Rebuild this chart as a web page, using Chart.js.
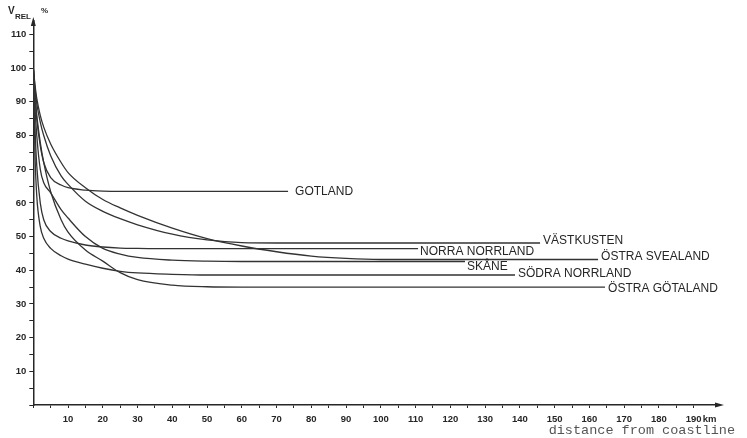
<!DOCTYPE html>
<html>
<head>
<meta charset="utf-8">
<script src="https://cdn.jsdelivr.net/npm/chart.js@4/dist/chart.umd.min.js"></script>
<style>
  body { margin: 0; background: #fff; }
</style>
</head>
<body>
<canvas id="myChart" width="747" height="438"></canvas>
<script>
// distance from coastline, km (shared sample points)
const KM = [0, 0.5, 1, 2, 3, 5, 8, 10, 15, 20, 25, 30, 40, 50, 60, 70, 80, 90, 100];

const regions = ['GOTLAND', 'VÄSTKUSTEN', 'NORRA NORRLAND', 'ÖSTRA SVEALAND', 'SKÅNE', 'SÖDRA NORRLAND', 'ÖSTRA GÖTALAND'];

// V_REL in % at each KM point
const gotland       = [100, 92, 85, 77, 72, 67.5, 65.3, 64.5, 63.8, 63.5, 63.4, 63.4, 63.4, 63.4, 63.4, 63.4];
const vastkusten    = [100, 94, 89.5, 84, 80, 74, 68, 65.5, 60.5, 57.5, 55.3, 53.5, 50.7, 49, 48.2, 48.1, 48.1, 48.1, 48.1];
const norraNorrland = [100, 82, 71, 60, 55, 51.5, 49.5, 48.7, 47.5, 46.9, 46.6, 46.5, 46.4, 46.4, 46.4, 46.4, 46.4, 46.4, 46.4];
const ostraSvealand = [100, 95, 91, 86, 82.5, 77.5, 72, 69, 64.5, 61, 58.5, 56.3, 52.5, 49.4, 47.2, 45.5, 44.2, 43.5, 43.2];
const skane         = [100, 88, 80, 70, 66, 63, 58, 55.5, 50, 46.5, 44.8, 43.8, 43, 42.7, 42.6, 42.6, 42.6, 42.6, 42.6];
const sodraNorrland = [100, 74, 62, 53, 49.5, 46.5, 44.3, 43.3, 41.8, 40.6, 39.7, 39.2, 38.8, 38.6, 38.6, 38.6, 38.6, 38.6, 38.6];
const ostraGotaland = [100, 92, 86, 78, 72, 63.3, 55, 51.3, 46, 42.7, 39.3, 37.2, 35.6, 35.1, 35, 35, 35, 35, 35];

// where each curve's level line ends (km)
const endKm = [73.3, 145.8, 110.7, 162.5, 124.2, 138.6, 164.5];

const xTicks = [10, 20, 30, 40, 50, 60, 70, 80, 90, 100, 110, 120, 130, 140, 150, 160, 170, 180, 190];
const yTicks = [10, 20, 30, 40, 50, 60, 70, 80, 90, 100, 110];

const series = [gotland, vastkusten, norraNorrland, ostraSvealand, skane, sodraNorrland, ostraGotaland];

// label placement next to each line end (gap, vertical shift in px)
const labelGap = [7, 3, 2, 3, 2, 3, 3];
const labelDy = [0, -2, 3, -3, 5, -1, 2];

const INK = '#262626';

const datasets = series.map((vals, i) => {
  const pts = vals.map((v, j) => ({ x: KM[j], y: v }));
  pts.push({ x: endKm[i], y: vals[vals.length - 1] });
  return {
    label: regions[i],
    data: pts,
    borderColor: '#333',
    borderWidth: 1.3,
    pointRadius: 0,
    fill: false,
    cubicInterpolationMode: 'monotone'
  };
});

const decor = {
  id: 'decor',
  afterDatasetsDraw(chart) {
    const { ctx, scales: { x, y }, chartArea } = chart;
    ctx.save();

    // region labels at line ends
    ctx.font = '12px "Liberation Sans"';
    ctx.fillStyle = INK;
    ctx.textBaseline = 'middle';
    ctx.textAlign = 'left';
    chart.data.datasets.forEach((ds, i) => {
      const p = ds.data[ds.data.length - 1];
      ctx.fillText(ds.label, x.getPixelForValue(p.x) + labelGap[i], y.getPixelForValue(p.y) + labelDy[i]);
    });

    // arrow heads
    ctx.fillStyle = INK;
    const right = chartArea.right, bottom = chartArea.bottom;
    ctx.beginPath();
    ctx.moveTo(right + 6, bottom);
    ctx.lineTo(right - 3, bottom - 2.5);
    ctx.lineTo(right - 3, bottom + 2.5);
    ctx.closePath();
    ctx.fill();
    const left = chartArea.left, top = chartArea.top;
    ctx.beginPath();
    ctx.moveTo(left, top - 4);
    ctx.lineTo(left - 2.5, top + 5);
    ctx.lineTo(left + 2.5, top + 5);
    ctx.closePath();
    ctx.fill();

    // y axis title V_REL %
    ctx.textBaseline = 'alphabetic';
    ctx.font = 'bold 10px "Liberation Sans"';
    ctx.fillText('V', 8, 14);
    ctx.font = 'bold 8px "Liberation Sans"';
    ctx.fillText('REL', 15, 19);
    ctx.font = 'bold 8px "Liberation Sans"';
    ctx.fillText('%', 41, 13);

    // unit after last x label
    ctx.font = 'bold 9.5px "Liberation Sans"';
    ctx.textBaseline = 'middle';
    ctx.fillText('km', x.getPixelForValue(190) + 9, 419);

    // x axis title
    ctx.font = '13.5px "Liberation Mono"';
    ctx.fillStyle = '#555';
    ctx.textAlign = 'right';
    ctx.fillText('distance from coastline', 735, 430);

    ctx.restore();
  }
};

const config = {
  type: 'line',
  data: { datasets: datasets },
  options: {
    responsive: false,
    animation: false,
    devicePixelRatio: 1,
    layout: { padding: { left: 0, top: 21, right: 29, bottom: 0 } },
    plugins: { legend: { display: false }, tooltip: { enabled: false } },
    scales: {
      x: {
        type: 'linear',
        min: 0,
        max: 197,
        afterBuildTicks: s => { s.ticks = s.ticks.filter(t => t.value % 5 === 0); },
        afterFit: s => { s.height = 33; },
        border: { display: true, color: INK, width: 1.5 },
        grid: { drawOnChartArea: false, drawTicks: true, tickLength: 3, tickColor: INK, tickWidth: 1 },
        ticks: {
          stepSize: 5,
          autoSkip: false,
          maxRotation: 0,
          minRotation: 0,
          padding: 6,
          color: INK,
          font: { family: 'Liberation Sans', size: 9.5, weight: 'bold' },
          callback: v => xTicks.includes(v) ? String(v) : ''
        }
      },
      y: {
        type: 'linear',
        min: 0,
        max: 114,
        afterBuildTicks: s => { s.ticks = s.ticks.filter(t => t.value % 5 === 0); },
        afterFit: s => { s.width = 33.3; },
        border: { display: true, color: INK, width: 1.5 },
        grid: { drawOnChartArea: false, drawTicks: true, tickLength: 4, tickColor: INK, tickWidth: 1 },
        ticks: {
          stepSize: 5,
          autoSkip: false,
          padding: 3,
          color: INK,
          font: { family: 'Liberation Sans', size: 9.5, weight: 'bold' },
          callback: v => yTicks.includes(v) ? String(v) : ''
        }
      }
    }
  },
  plugins: [decor]
};

const myChart = new Chart(document.getElementById('myChart'), config);
</script>
</body>
</html>
